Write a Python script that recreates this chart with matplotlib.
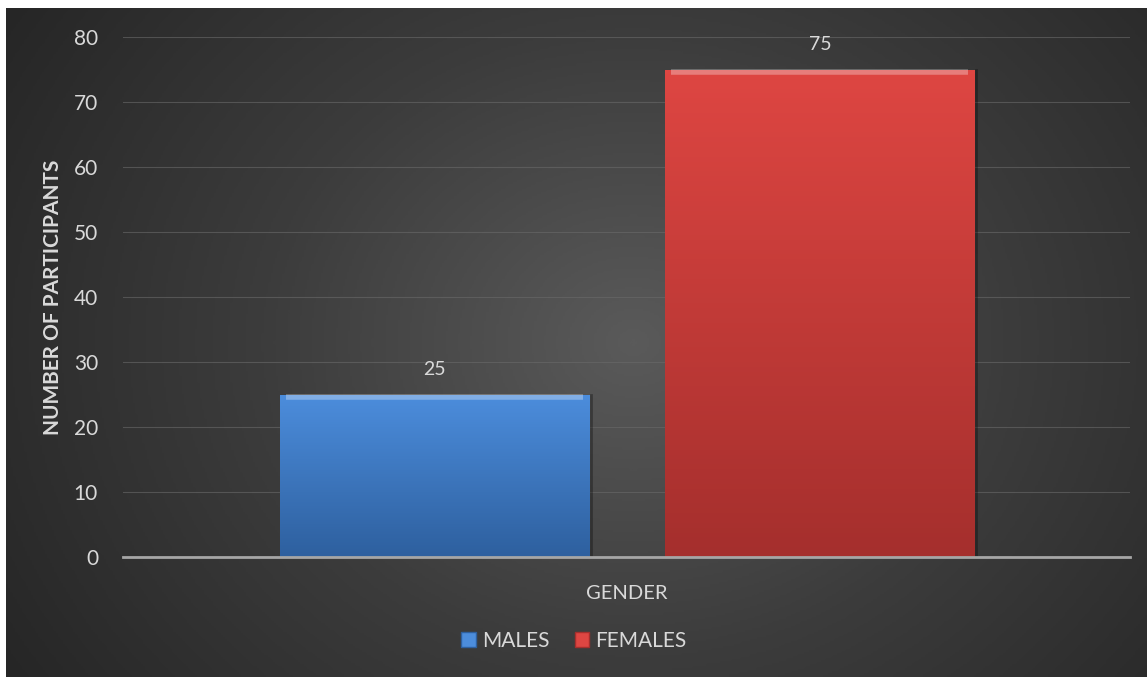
import numpy as np
import matplotlib.pyplot as plt
from matplotlib.colors import LinearSegmentedColormap
from matplotlib.patches import Patch

categories = ["MALES", "FEMALES"]
values = [25, 75]
group_label = "GENDER"
yticks = [0, 10, 20, 30, 40, 50, 60, 70, 80]

plt.rcParams['font.family'] = ['Lato', 'DejaVu Sans']

fig = plt.figure(figsize=(11.47, 6.77), dpi=100, facecolor="white")

# dark radial gradient background
bg = fig.add_axes([6 / 1147, 0, 1 - 6 / 1147, 1 - 8 / 677])
yy, xx = np.mgrid[0:1:300j, 0:1:500j]
r = np.sqrt(((xx - 0.55) * 1.3) ** 2 + ((yy - 0.5) * 0.9) ** 2)
r = np.clip(r / r.max(), 0, 1)
bg_cmap = LinearSegmentedColormap.from_list("bg", ["#5a5a5a", "#3c3c3c", "#262626"])
bg.imshow(r, cmap=bg_cmap, aspect="auto", extent=[0, 1, 0, 1], origin="lower")
bg.axis("off")

ax = fig.add_axes([123 / 1147, 120 / 677, 1007 / 1147, 520 / 677])
ax.patch.set_alpha(0)

offsets = [-0.191, 0.192]
width = 0.307
grads = [("#4c8ddc", "#2e609f"), ("#de4642", "#a52f2d")]
for off, v, (c1, c2), name in zip(offsets, values, grads, categories):
    bar = ax.bar(off, v, width=width, color=c1, edgecolor="none", zorder=3)[0]
    cm = LinearSegmentedColormap.from_list("g", [c2, c1])
    grad = np.linspace(0, 1, 100).reshape(-1, 1)
    im = ax.imshow(grad, cmap=cm, aspect="auto", origin="lower",
                   extent=[off - width / 2, off + width / 2, 0, v], zorder=3)
    im.set_clip_path(bar)
    # bevel highlight on top
    ax.plot([off - width / 2 + 0.006, off + width / 2 - 0.006], [v - 0.45, v - 0.45],
            color="white", alpha=0.3, lw=4, zorder=4, solid_capstyle="butt")
    # shadow at right edge
    ax.plot([off + width / 2 + 0.002, off + width / 2 + 0.002], [0, v],
            color="black", alpha=0.3, lw=2, zorder=2)
    ax.text(off, v + 2.5, str(v), ha="center", va="bottom", fontsize=14, color="#d9d9d9")

ax.set_xlim(-0.5, 0.5)
ax.set_ylim(0, 80)
ax.set_yticks(yticks)
ax.set_xticks([0])
ax.set_xticklabels([group_label])
ax.tick_params(axis="y", length=0, pad=18, labelsize=15, labelcolor="#d9d9d9")
ax.tick_params(axis="x", length=0, pad=20, labelsize=14.5, labelcolor="#d9d9d9")
ax.grid(axis="y", color="#6a6a6a", lw=0.8, alpha=0.6, zorder=0)
for s in ["top", "right", "left"]:
    ax.spines[s].set_visible(False)
ax.spines["bottom"].set_color("#a6a6a6")
ax.spines["bottom"].set_linewidth(2)
ax.spines["bottom"].set_zorder(5)

ax.set_ylabel("NUMBER OF PARTICIPANTS", fontsize=15, fontweight="bold", color="#d9d9d9", labelpad=8)

handles = [Patch(facecolor=g[0], edgecolor=g[1]) for g in grads]
fig.legend(handles, categories, loc="center", bbox_to_anchor=(574 / 1147, 1 - 641 / 677),
           ncol=2, frameon=False, fontsize=15, labelcolor="#d9d9d9",
           handlelength=0.7, handleheight=0.7, handletextpad=0.3, columnspacing=1.2)

fig.savefig("out.png", dpi=100, facecolor="white")
